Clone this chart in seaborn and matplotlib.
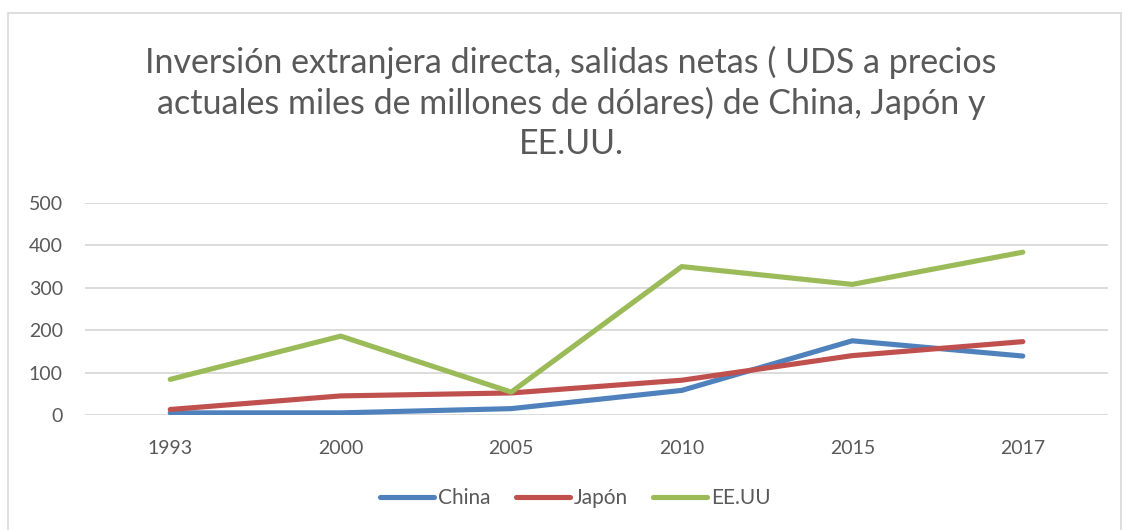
"""Line chart: outward FDI of China, Japan and the US"""
import pandas as pd
import seaborn as sns
import matplotlib.pyplot as plt
from matplotlib.patches import Rectangle

YEARS = ['1993', '2000', '2005', '2010', '2015', '2017']
CHINA = [5, 5, 15, 58, 175, 139]
JAPON = [13, 45, 52, 82, 140, 173]
EEUU = [84, 186, 54, 350, 308, 384]

SERIES = ['China', 'Japón', 'EE.UU']
COLORS = ['#4F81BD', '#C0504D', '#9BBB59']
TEXT = '#595959'

df = pd.DataFrame({'year': YEARS * 3,
                   'value': CHINA + JAPON + EEUU,
                   'country': [s for s in SERIES for _ in YEARS]})

sns.set_style('white')
plt.rcParams['font.family'] = ['Lato', 'DejaVu Sans']

fig = plt.figure(figsize=(11.24, 5.30), dpi=100)
ax = fig.add_axes([0.0756, 0.217, 0.9102, 0.400])

sns.lineplot(data=df, x='year', y='value', hue='country', hue_order=SERIES,
             palette=COLORS, linewidth=3.7, ax=ax, legend=False,
             solid_capstyle='round')

ax.set_xlim(-0.5, 5.5)
ax.set_ylim(0, 500)
ax.set_yticks(range(0, 501, 100))
ax.grid(axis='y', color='#D9D9D9', linewidth=1.3)
ax.set_axisbelow(True)
for s in ax.spines.values():
    s.set_visible(False)
ax.tick_params(axis='both', length=0, labelsize=14, labelcolor=TEXT)
ax.tick_params(axis='y', pad=16)
ax.tick_params(axis='x', pad=18)
ax.set_xlabel('')
ax.set_ylabel('')

fig.text(0.508, (530 - 103) / 530,
         'Inversión extranjera directa, salidas netas ( UDS a precios\n'
         'actuales miles de millones de dólares) de China, Japón y\nEE.UU.',
         ha='center', va='center', fontsize=24.5, color=TEXT, linespacing=1.3)

handles = [plt.Line2D([], [], color=c, linewidth=3.7, solid_capstyle='round') for c in COLORS]
fig.legend(handles, SERIES, loc='center', bbox_to_anchor=(0.512, (530 - 498) / 530),
           ncol=3, frameon=False, fontsize=15, labelcolor=TEXT,
           handlelength=2.6, handletextpad=0.2, columnspacing=1.2)

fig.patches.append(Rectangle((8 / 1124, -0.01), (1121 - 8) / 1124, (530 - 13) / 530 + 0.01,
                             transform=fig.transFigure, fill=False,
                             edgecolor='#D9D9D9', linewidth=1.2))

plt.savefig('out.png', dpi=100)
plt.close()
